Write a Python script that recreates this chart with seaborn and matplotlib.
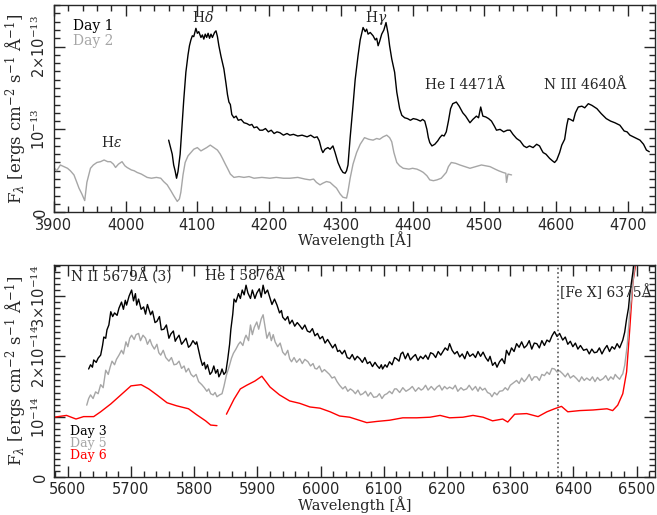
import numpy as np
import pandas as pd
import matplotlib
matplotlib.use("Agg")
import matplotlib.pyplot as plt
from matplotlib.ticker import MultipleLocator
import seaborn as sns

# top panel, flux in units of 1e-13
day1_wave = [4060, 4062, 4063, 4065, 4067, 4069, 4071, 4073, 4076, 4078, 4081, 4084, 4087, 4089, 4091,
             4093, 4095, 4098, 4100, 4102, 4105, 4107, 4109, 4111, 4113, 4115, 4117, 4119, 4121, 4124,
             4126, 4128, 4130, 4133, 4137, 4140, 4142, 4144, 4146, 4148, 4151, 4154, 4157, 4161, 4165,
             4169, 4173, 4176, 4179, 4183, 4187, 4191, 4195, 4199, 4203, 4207, 4211, 4215, 4220, 4225,
             4229, 4234, 4240, 4246, 4253, 4258, 4263, 4267, 4270, 4273, 4275, 4278, 4282, 4285, 4289,
             4292, 4296, 4300, 4303, 4306, 4308, 4310, 4313, 4317, 4320, 4324, 4327, 4331, 4334, 4336,
             4338, 4341, 4345, 4348, 4350, 4352, 4354, 4357, 4360, 4363, 4366, 4368, 4371, 4375, 4378,
             4382, 4385, 4389, 4393, 4397, 4401, 4406, 4411, 4414, 4417, 4420, 4422, 4424, 4427, 4431,
             4435, 4438, 4441, 4444, 4447, 4450, 4453, 4456, 4461, 4465, 4470, 4474, 4477, 4480, 4484,
             4489, 4492, 4495, 4498, 4502, 4506, 4510, 4514, 4517, 4522, 4527, 4532, 4536, 4540, 4545,
             4550, 4555, 4559, 4563, 4568, 4573, 4577, 4580, 4582, 4586, 4591, 4595, 4598, 4601, 4605,
             4608, 4612, 4615, 4617, 4620, 4624, 4627, 4631, 4636, 4640, 4645, 4650, 4657, 4663, 4670,
             4676, 4682, 4689, 4695, 4699, 4703, 4710, 4717, 4722, 4726, 4730]
day1_flux = [0.87, 0.80, 0.77, 0.70, 0.57, 0.50, 0.41, 0.49, 0.70, 0.96, 1.35, 1.69, 1.90, 2.01, 2.08,
             2.13, 2.12, 2.22, 2.16, 2.18, 2.11, 2.14, 2.09, 2.15, 2.11, 2.16, 2.10, 2.15, 2.11, 2.17,
             2.19, 2.12, 2.01, 1.88, 1.73, 1.55, 1.42, 1.33, 1.30, 1.18, 1.14, 1.16, 1.11, 1.12, 1.08,
             1.07, 1.05, 1.06, 1.02, 1.03, 0.99, 0.99, 1.01, 0.97, 0.99, 0.95, 0.97, 0.96, 0.93, 0.95,
             0.93, 0.94, 0.92, 0.93, 0.91, 0.93, 0.90, 0.91, 0.86, 0.76, 0.72, 0.76, 0.78, 0.76, 0.80,
             0.72, 0.60, 0.52, 0.48, 0.47, 0.50, 0.57, 0.90, 1.29, 1.60, 1.89, 2.08, 2.23, 2.18, 2.21,
             2.15, 2.17, 2.13, 2.08, 2.10, 2.01, 2.06, 2.15, 2.20, 2.29, 2.15, 2.01, 1.85, 1.69, 1.45,
             1.25, 1.17, 1.14, 1.13, 1.11, 1.13, 1.12, 1.10, 1.12, 1.10, 1.00, 0.90, 0.84, 0.80, 0.82,
             0.86, 0.90, 0.93, 0.92, 0.97, 1.10, 1.25, 1.31, 1.33, 1.28, 1.20, 1.16, 1.12, 1.08, 1.12,
             1.16, 1.14, 1.27, 1.16, 1.15, 1.13, 1.10, 1.04, 0.99, 1.00, 0.97, 0.99, 0.99, 0.94, 0.89,
             0.86, 0.80, 0.78, 0.80, 0.78, 0.82, 0.80, 0.75, 0.72, 0.70, 0.65, 0.62, 0.60, 0.63, 0.72,
             0.81, 0.88, 1.05, 1.13, 1.12, 1.10, 1.20, 1.27, 1.28, 1.26, 1.31, 1.29, 1.25, 1.19, 1.13,
             1.10, 1.08, 1.05, 0.98, 0.97, 0.93, 0.90, 0.87, 0.82, 0.75, 0.73]

day2_wave = [3900, 3904, 3909, 3914, 3919, 3923, 3928, 3932, 3935, 3939, 3943, 3946, 3951, 3955, 3960,
             3965, 3970, 3975, 3979, 3983, 3986, 3990, 3995, 3999, 4002, 4008, 4012, 4016, 4022, 4030,
             4036, 4043, 4049, 4053, 4058, 4063, 4067, 4072, 4075, 4077, 4080, 4083, 4087, 4091, 4095,
             4100, 4105, 4109, 4113, 4118, 4123, 4128, 4132, 4135, 4139, 4142, 4146, 4151, 4158, 4165,
             4172, 4179, 4190, 4201, 4210, 4220, 4229, 4240, 4250, 4257, 4262, 4266, 4271, 4275, 4280,
             4285, 4290, 4294, 4299, 4303, 4308, 4310, 4313, 4317, 4322, 4327, 4333, 4339, 4345, 4350,
             4354, 4359, 4364, 4368, 4371, 4374, 4378, 4382, 4387, 4395, 4400, 4406, 4411, 4415, 4420,
             4424, 4429, 4434, 4440, 4447, 4450, 4454, 4460, 4466, 4473, 4480, 4488, 4496, 4502, 4508,
             4515, 4520, 4526, 4530, 4531, 4533, 4538]
day2_flux = [0.54, 0.50, 0.57, 0.55, 0.53, 0.50, 0.45, 0.36, 0.29, 0.22, 0.14, 0.36, 0.53, 0.57, 0.60,
             0.61, 0.63, 0.61, 0.61, 0.58, 0.54, 0.58, 0.61, 0.56, 0.54, 0.51, 0.50, 0.48, 0.46, 0.42,
             0.41, 0.42, 0.41, 0.37, 0.33, 0.26, 0.20, 0.13, 0.16, 0.24, 0.45, 0.60, 0.68, 0.72, 0.76,
             0.78, 0.74, 0.76, 0.78, 0.81, 0.78, 0.75, 0.70, 0.65, 0.58, 0.53, 0.46, 0.42, 0.43, 0.42,
             0.43, 0.41, 0.42, 0.41, 0.42, 0.41, 0.41, 0.42, 0.40, 0.39, 0.40, 0.36, 0.33, 0.35, 0.37,
             0.36, 0.32, 0.29, 0.22, 0.18, 0.17, 0.25, 0.41, 0.58, 0.72, 0.82, 0.90, 0.88, 0.87, 0.89,
             0.88, 0.91, 0.93, 0.90, 0.85, 0.72, 0.60, 0.56, 0.53, 0.52, 0.53, 0.52, 0.50, 0.48, 0.44,
             0.39, 0.38, 0.39, 0.41, 0.48, 0.55, 0.60, 0.59, 0.57, 0.55, 0.53, 0.55, 0.57, 0.56, 0.55,
             0.52, 0.50, 0.48, 0.47, 0.36, 0.46, 0.45]

# bottom panel, flux in units of 1e-14
day3_wave = [5633, 5636, 5639, 5641, 5645, 5648, 5652, 5655, 5657, 5660, 5662, 5665, 5668, 5671, 5674,
             5678, 5681, 5685, 5688, 5691, 5693, 5697, 5701, 5704, 5707, 5709, 5712, 5716, 5720, 5723,
             5726, 5731, 5734, 5738, 5741, 5745, 5748, 5752, 5756, 5760, 5763, 5767, 5770, 5772, 5776,
             5780, 5783, 5787, 5791, 5794, 5798, 5802, 5804, 5807, 5810, 5813, 5816, 5818, 5821, 5825,
             5828, 5831, 5834, 5837, 5839, 5842, 5844, 5847, 5850, 5853, 5856, 5858, 5861, 5863, 5866,
             5870, 5873, 5876, 5879, 5882, 5885, 5889, 5892, 5896, 5899, 5903, 5906, 5909, 5912, 5916,
             5920, 5923, 5927, 5931, 5935, 5938, 5940, 5944, 5948, 5951, 5955, 5959, 5963, 5967, 5971,
             5975, 5979, 5983, 5987, 5991, 5995, 5999, 6003, 6007, 6011, 6015, 6019, 6023, 6027, 6030,
             6034, 6038, 6042, 6046, 6050, 6054, 6058, 6062, 6066, 6070, 6074, 6078, 6082, 6086, 6089,
             6093, 6096, 6098, 6102, 6105, 6109, 6113, 6117, 6120, 6124, 6127, 6130, 6134, 6138, 6142,
             6146, 6150, 6154, 6158, 6162, 6166, 6170, 6174, 6178, 6182, 6186, 6190, 6193, 6197, 6201,
             6204, 6208, 6212, 6216, 6220, 6224, 6228, 6232, 6236, 6241, 6245, 6249, 6253, 6257, 6261,
             6265, 6268, 6272, 6276, 6279, 6283, 6287, 6291, 6294, 6298, 6302, 6306, 6310, 6314, 6318,
             6322, 6326, 6330, 6334, 6338, 6342, 6346, 6350, 6354, 6358, 6362, 6366, 6370, 6374, 6378,
             6383, 6387, 6391, 6395, 6399, 6403, 6407, 6411, 6416, 6421, 6425, 6429, 6433, 6437, 6441,
             6445, 6449, 6453, 6457, 6461, 6465, 6469, 6473, 6476, 6478, 6481, 6484, 6487, 6489, 6492,
             6494, 6497]
day3_flux = [1.79, 1.86, 1.82, 1.94, 1.90, 1.97, 2.02, 2.18, 2.32, 2.30, 2.44, 2.52, 2.74, 2.66, 2.72,
             2.68, 2.80, 2.90, 2.78, 2.93, 2.85, 3.00, 3.10, 2.92, 3.04, 2.85, 2.95, 2.78, 2.82, 2.70,
             2.86, 2.69, 2.75, 2.56, 2.58, 2.66, 2.44, 2.45, 2.52, 2.30, 2.37, 2.42, 2.25, 2.29, 2.35,
             2.20, 2.24, 2.30, 2.15, 2.18, 2.26, 2.20, 2.24, 2.10, 1.96, 1.85, 1.90, 1.79, 1.86, 1.70,
             1.74, 1.84, 1.72, 1.78, 1.66, 1.72, 1.79, 1.70, 1.74, 1.95, 2.20, 2.45, 2.70, 2.95, 2.90,
             3.04, 2.96, 3.10, 3.02, 3.18, 3.05, 2.96, 3.10, 2.96, 3.05, 3.12, 2.98, 3.18, 3.04, 3.10,
             2.96, 2.86, 2.95, 2.85, 2.72, 2.76, 2.65, 2.60, 2.66, 2.54, 2.60, 2.50, 2.56, 2.51, 2.45,
             2.52, 2.42, 2.40, 2.46, 2.34, 2.38, 2.29, 2.33, 2.22, 2.28, 2.21, 2.14, 2.20, 2.08, 2.10,
             2.04, 2.10, 1.98, 1.96, 2.03, 1.94, 2.00, 1.96, 1.90, 1.98, 1.88, 1.91, 1.83, 1.90, 1.85,
             1.80, 1.86, 1.79, 1.86, 1.82, 1.91, 1.86, 1.98, 1.96, 1.92, 2.04, 2.07, 1.96, 2.05, 1.94,
             1.99, 2.03, 1.93, 2.00, 1.96, 2.02, 1.95, 2.06, 2.04, 1.98, 2.08, 2.02, 2.07, 2.14, 2.10,
             2.21, 2.10, 2.04, 2.08, 1.99, 2.04, 1.96, 2.08, 2.00, 2.04, 1.98, 2.08, 2.00, 2.07, 1.98,
             1.92, 2.00, 1.85, 1.90, 1.82, 1.91, 1.96, 1.88, 2.10, 2.02, 2.14, 2.08, 2.21, 2.15, 2.24,
             2.14, 2.18, 2.26, 2.12, 2.22, 2.21, 2.14, 2.26, 2.18, 2.27, 2.24, 2.34, 2.41, 2.33, 2.38,
             2.27, 2.32, 2.20, 2.25, 2.16, 2.22, 2.12, 2.18, 2.10, 2.12, 2.04, 2.12, 2.06, 2.07, 2.14,
             2.04, 2.12, 2.18, 2.08, 2.16, 2.12, 2.21, 2.14, 2.22, 2.27, 2.40, 2.62, 2.80, 3.02, 3.25,
             3.40, 3.70]

day5_wave = [5630, 5633, 5636, 5640, 5644, 5648, 5652, 5656, 5660, 5664, 5667, 5670, 5674, 5677, 5681,
             5685, 5688, 5692, 5695, 5698, 5701, 5705, 5708, 5712, 5715, 5719, 5723, 5726, 5730, 5733,
             5737, 5741, 5744, 5747, 5751, 5755, 5760, 5764, 5768, 5772, 5776, 5780, 5784, 5787, 5791,
             5795, 5799, 5803, 5807, 5812, 5816, 5820, 5823, 5826, 5830, 5833, 5836, 5840, 5844, 5847,
             5851, 5855, 5859, 5862, 5866, 5870, 5873, 5877, 5880, 5882, 5886, 5889, 5892, 5895, 5899,
             5902, 5906, 5909, 5912, 5915, 5919, 5922, 5925, 5928, 5932, 5936, 5940, 5944, 5948, 5951,
             5954, 5958, 5962, 5967, 5971, 5975, 5980, 5984, 5988, 5991, 5994, 5998, 6002, 6006, 6010,
             6014, 6018, 6022, 6026, 6030, 6035, 6039, 6043, 6047, 6051, 6055, 6059, 6063, 6067, 6071,
             6075, 6079, 6084, 6089, 6093, 6097, 6101, 6105, 6109, 6113, 6117, 6120, 6125, 6130, 6135,
             6141, 6145, 6150, 6155, 6159, 6162, 6166, 6170, 6175, 6180, 6184, 6188, 6192, 6196, 6200,
             6204, 6209, 6213, 6217, 6222, 6226, 6231, 6235, 6240, 6245, 6249, 6252, 6256, 6260, 6264,
             6268, 6271, 6275, 6279, 6283, 6288, 6292, 6296, 6300, 6305, 6310, 6314, 6318, 6322, 6326,
             6330, 6334, 6338, 6342, 6346, 6350, 6354, 6358, 6362, 6366, 6370, 6374, 6378, 6383, 6387,
             6391, 6395, 6400, 6405, 6409, 6413, 6417, 6421, 6426, 6430, 6434, 6438, 6442, 6447, 6451,
             6455, 6459, 6463, 6466, 6469, 6473, 6476, 6478, 6481, 6485, 6489, 6492, 6494, 6499]
day5_flux = [1.19, 1.30, 1.36, 1.30, 1.41, 1.38, 1.53, 1.48, 1.77, 1.70, 1.82, 1.92, 1.86, 1.95, 2.02,
             2.10, 2.04, 2.24, 2.16, 2.30, 2.35, 2.28, 2.36, 2.38, 2.26, 2.35, 2.30, 2.20, 2.28, 2.19,
             2.12, 2.20, 2.06, 2.02, 2.10, 1.98, 1.92, 1.98, 1.86, 1.87, 1.92, 1.80, 1.84, 1.74, 1.80,
             1.70, 1.66, 1.70, 1.58, 1.53, 1.48, 1.42, 1.46, 1.38, 1.36, 1.40, 1.33, 1.36, 1.38, 1.50,
             1.69, 1.82, 1.97, 2.05, 2.12, 2.20, 2.24, 2.18, 2.30, 2.35, 2.26, 2.52, 2.36, 2.48, 2.57,
             2.45, 2.62, 2.69, 2.50, 2.30, 2.40, 2.26, 2.36, 2.24, 2.16, 2.22, 2.07, 2.02, 2.10, 1.96,
             1.91, 1.98, 1.90, 1.96, 1.88, 1.95, 1.91, 1.84, 1.88, 1.80, 1.79, 1.84, 1.74, 1.78, 1.74,
             1.70, 1.64, 1.66, 1.58, 1.52, 1.46, 1.50, 1.42, 1.46, 1.43, 1.38, 1.44, 1.36, 1.38, 1.42,
             1.34, 1.40, 1.32, 1.33, 1.38, 1.30, 1.36, 1.38, 1.42, 1.38, 1.46, 1.46, 1.40, 1.48, 1.42,
             1.46, 1.50, 1.42, 1.48, 1.44, 1.46, 1.52, 1.44, 1.50, 1.44, 1.49, 1.52, 1.44, 1.50, 1.46,
             1.49, 1.46, 1.52, 1.42, 1.48, 1.44, 1.46, 1.52, 1.44, 1.50, 1.42, 1.49, 1.44, 1.47, 1.40,
             1.38, 1.33, 1.40, 1.36, 1.42, 1.43, 1.48, 1.44, 1.52, 1.56, 1.60, 1.55, 1.64, 1.58, 1.63,
             1.70, 1.60, 1.66, 1.66, 1.60, 1.70, 1.68, 1.74, 1.70, 1.80, 1.79, 1.74, 1.76, 1.71, 1.66,
             1.72, 1.64, 1.68, 1.63, 1.58, 1.66, 1.60, 1.64, 1.60, 1.66, 1.58, 1.65, 1.60, 1.63, 1.68,
             1.60, 1.66, 1.62, 1.70, 1.66, 1.62, 1.68, 1.71, 1.85, 2.18, 2.73, 3.00, 3.23, 3.70]

day6_wave_a = [5578, 5598, 5613, 5625, 5641, 5652, 5668, 5684, 5700, 5716, 5728, 5741, 5757, 5772, 5791,
               5804, 5818, 5826, 5836]
day6_flux_a = [0.99, 1.02, 0.96, 1.00, 1.00, 1.08, 1.21, 1.36, 1.51, 1.53, 1.46, 1.36, 1.23, 1.18, 1.13,
               1.03, 0.93, 0.86, 0.85]
day6_wave_b = [5851, 5863, 5873, 5883, 5896, 5907, 5920, 5935, 5951, 5967, 5983, 5999, 6015, 6030, 6046,
               6073, 6089, 6109, 6130, 6152, 6173, 6189, 6204, 6225, 6241, 6257, 6272, 6288, 6296, 6307,
               6326, 6344, 6358, 6370, 6381, 6391, 6410, 6431, 6453, 6462, 6470, 6478, 6484, 6489, 6494,
               6501]
day6_flux_b = [1.04, 1.29, 1.46, 1.52, 1.59, 1.67, 1.49, 1.36, 1.26, 1.22, 1.16, 1.14, 1.08, 1.01, 0.99,
               0.90, 0.92, 0.94, 0.98, 0.98, 0.99, 1.02, 0.98, 0.99, 1.02, 0.99, 0.93, 0.96, 0.91, 1.04,
               1.05, 1.00, 1.08, 1.13, 1.17, 1.08, 1.10, 1.11, 1.13, 1.10, 1.19, 1.38, 1.74, 2.45, 3.23,
               3.70]

sns.set_style("ticks")
plt.rcParams['font.family'] = ['DejaVu Serif']
plt.rcParams['mathtext.fontset'] = 'dejavuserif'

grey = '#a6a6a6'
red = '#ff0000'
ylab = r'F$_\lambda$ [ergs cm$^{-2}$ s$^{-1}$ Å$^{-1}$]'

fig = plt.figure(figsize=(6.57, 5.15), dpi=100)
ax1 = fig.add_axes([0.082, 0.588, 0.915, 0.402])
ax2 = fig.add_axes([0.082, 0.074, 0.915, 0.412])

def draw(ax, w, f, c):
    df = pd.DataFrame({'wave': w, 'flux': f})
    sns.lineplot(data=df, x='wave', y='flux', color=c, lw=1.0, sort=False, estimator=None, ax=ax)

draw(ax1, day2_wave, day2_flux, grey)
draw(ax1, day1_wave, day1_flux, 'black')

draw(ax2, day6_wave_a, day6_flux_a, red)
draw(ax2, day6_wave_b, day6_flux_b, red)
draw(ax2, day5_wave, day5_flux, grey)
draw(ax2, day3_wave, day3_flux, 'black')
ax2.axvline(6375, color='#555555', ls=':', lw=1.2)

def style(ax, xlim, ylim, yticks, ylabels):
    ax.set_xlim(*xlim)
    ax.set_ylim(*ylim)
    ax.xaxis.set_major_locator(MultipleLocator(100))
    ax.xaxis.set_minor_locator(MultipleLocator(20))
    ax.yaxis.set_minor_locator(MultipleLocator(0.1))
    ax.set_yticks(yticks)
    ax.set_yticklabels(ylabels, rotation=90, va='center', family='DejaVu Sans', fontsize=10.5)
    for lab in ax.get_xticklabels():
        lab.set_family('DejaVu Sans')
        lab.set_fontsize(10.5)
    ax.tick_params(which='both', direction='in', top=True, right=True, width=1.0)
    ax.tick_params(which='major', length=8, pad=4)
    ax.tick_params(which='minor', length=4)
    for s in ax.spines.values():
        s.set_linewidth(1.0)
    ax.set_xlabel('Wavelength [Å]', fontsize=10.5, labelpad=-1)
    ax.set_ylabel(ylab, fontsize=12, labelpad=2)

style(ax1, (3900, 4738), (0, 2.5), [0, 1, 2],
      ['0', r'10$^{-13}$', r'2$\times$10$^{-13}$'])
style(ax2, (5578, 6529), (0, 3.52), [0, 1, 2, 3],
      ['0', r'10$^{-14}$', r'2$\times$10$^{-14}$', r'3$\times$10$^{-14}$'])

fs = 10
ax1.text(3926, 2.25, 'Day 1', color='black', fontsize=fs, va='center')
ax1.text(3926, 2.07, 'Day 2', color=grey, fontsize=fs, va='center')
ax1.text(4108, 2.35, r'H$\delta$', fontsize=fs, ha='center', va='center')
ax1.text(4350, 2.34, r'H$\gamma$', fontsize=fs, ha='center', va='center')
ax1.text(3981, 0.84, r'H$\epsilon$', fontsize=fs, ha='center', va='center')
ax1.text(4473, 1.54, 'He I 4471Å', fontsize=fs, ha='center', va='center')
ax1.text(4640, 1.54, 'N III 4640Å', fontsize=fs, ha='center', va='center')

ax2.text(5684, 3.33, 'N II 5679Å (3)', fontsize=fs, ha='center', va='center')
ax2.text(5880, 3.33, 'He I 5876Å', fontsize=fs, ha='center', va='center')
ax2.text(6378, 3.07, '[Fe X] 6375Å', fontsize=fs, ha='left', va='center')
ax2.text(5603, 0.76, 'Day 3', color='black', fontsize=9, va='center')
ax2.text(5603, 0.56, 'Day 5', color=grey, fontsize=9, va='center')
ax2.text(5603, 0.36, 'Day 6', color=red, fontsize=9, va='center')

fig.savefig('out.png', dpi=100)
